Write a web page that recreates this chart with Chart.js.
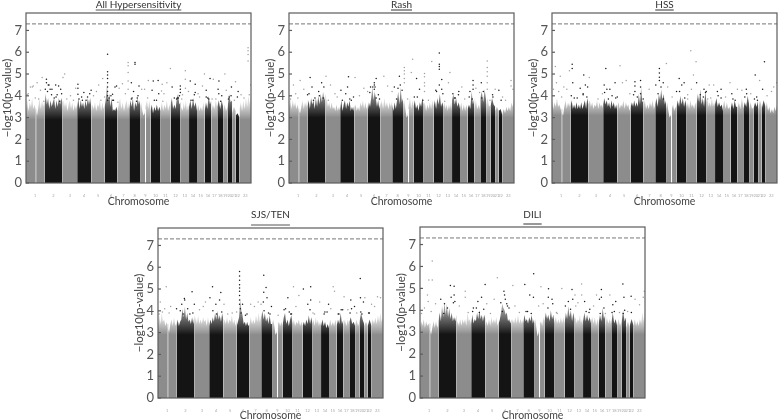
<!DOCTYPE html>
<html>
<head>
<meta charset="utf-8">
<script src="https://cdn.jsdelivr.net/npm/chart.js@4/dist/chart.umd.min.js"></script>
<style>
  html, body { margin: 0; padding: 0; background: #fff; overflow: hidden; }
  canvas { position: absolute; }
</style>
</head>
<body>
<canvas id="hyper" style="left:0;top:0"></canvas>
<canvas id="rash" style="left:263px;top:0"></canvas>
<canvas id="hss" style="left:526px;top:0"></canvas>
<canvas id="sjs" style="left:132px;top:210px"></canvas>
<canvas id="dili" style="left:394px;top:210px"></canvas>
<script>
const chromNames = ['1','2','3','4','5','6','7','8','9','10','11','12','13','14','15','16','17','18','19','20','21','22','23'];
const chromSizes = [249,243,198,191,181,171,159,146,141,136,135,134,115,107,103,90,81,78,59,63,48,51,155];
const yTicks = [0,1,2,3,4,5,6,7];
const thresholdValue = 7.3;
const gapPositions = [134, 1612];

// top of the dense mass of points, per chromosome
const hyperTops = [
  [3.4,3.8,3.3,3.7,3.5,3.9,3.4,3.6,3.3,3.1,3.5,3.9,3.4,3.8,3.5,3.9],
  [3.5,4.1,3.6,3.9,3.4,3.8,3.5,3.7,3.9,3.4,3.8,3.5,3.9,3.6,3.9,3.7],
  [3.4,3.8,3.5,3.7,3.3,3.6,3.8,3.4,3.7,3.3,3.6,3.4,3.6],
  [3.5,3.9,3.4,3.8,3.5,3.7,3.4,3.8,3.5,3.9,3.6,3.9,3.5],
  [3.3,3.6,3.4,3.7,3.3,3.6,3.5,3.8,3.3,3.7,3.4,3.6],
  [3.5,3.9,4.6,3.8,4.1,3.5,3.9,3.3,3.4,3.3,3.5,3.3],
  [3.3,3.6,3.9,3.4,3.7,3.3,3.6,3.8,3.4,3.8],
  [3.4,3.8,3.5,3.9,3.3,3.7,3.5,3.9,3.6,3.8],
  [3.5,3.7,3.3,3.1,3.2,3.6,3.8,3.4,3.8,3.4],
  [3.3,3.6,3.2,3.5,3.3,3.6,3.3,3.5,3.3],
  [3.4,3.7,3.3,3.6,3.4,3.8,3.3,3.6,3.4],
  [3.6,3.9,3.4,3.6,3.4,3.9,4.1,3.6,3.7],
  [3.2,3.5,3.3,3.7,3.4,3.8,3.3,3.6,3.3],
  [3.5,3.8,3.4,3.9,3.5,3.7,3.3],
  [3.3,3.6,3.3,3.5,3.3,3.7,3.3],
  [3.3,3.7,3.4,4.0,3.6,3.8],
  [3.3,3.6,3.4,3.8,3.4],
  [3.5,3.8,3.4,3.8,3.5],
  [3.3,3.6,3.3,3.5],
  [3.4,4.1,3.7,3.8],
  [3.2,3.5,3.3],
  [3.1,3.2,3.0],
  [3.4,3.7,3.3,3.8,3.4,3.9,3.5,4.0,3.6,4.1]
];
const rashTops = [
  [3.5,3.9,3.4,3.8,3.5,3.7,3.4,3.6,3.3,3.2,3.5,3.8,3.4,3.7,3.5,3.9],
  [3.5,3.8,3.4,3.9,3.6,3.8,3.4,3.9,3.5,4.0,3.6,4.1,3.7,4.2,3.8,4.1],
  [3.6,3.9,3.5,3.7,3.4,3.7,3.4,3.5,3.3,3.6,3.3,3.5,3.3],
  [3.4,3.8,3.3,3.6,3.8,3.4,3.7,3.5,3.8,3.3,3.5,3.3,3.6],
  [3.4,3.6,3.3,3.5,3.3,3.7,3.5,3.8,3.4,3.7,3.4,3.6],
  [3.3,3.7,3.5,3.9,4.4,3.8,4.2,3.9,3.5,3.8,3.4,3.7],
  [3.5,3.8,3.4,3.9,3.5,3.7,3.4,3.7,3.5,3.8],
  [3.6,3.3,3.7,3.4,3.8,4.2,3.6,4.4,3.7,3.9],
  [3.6,3.8,3.4,3.0,3.1,3.6,3.9,3.4,3.8,3.5],
  [3.5,3.8,3.4,3.6,3.3,3.7,3.5,3.9,3.6],
  [3.5,3.7,3.3,3.6,3.4,3.7,3.4,3.8,3.4],
  [3.5,3.8,3.4,3.9,3.6,4.1,3.5,3.7,3.5],
  [3.3,3.7,3.4,3.6,3.3,3.6,3.4,3.7,3.3],
  [3.8,4.1,3.6,3.9,3.5,3.7,3.4],
  [3.4,3.7,3.3,3.6,3.3,3.6,3.3],
  [3.4,3.6,3.4,4.2,3.6,3.9],
  [3.4,3.8,3.4,3.6,3.3],
  [3.9,4.2,3.7,4.3,3.8],
  [3.6,3.9,3.5,3.6],
  [3.5,3.9,3.6,3.5],
  [3.3,3.5,3.3],
  [3.3,3.4,3.1],
  [3.2,3.4,3.2,3.5,3.3,3.5,3.3,3.7,3.5,3.9]
];
const hssTops = [
  [3.8,3.4,3.7,3.5,3.9,3.5,3.6,3.4,3.2,3.1,3.5,3.8,3.4,3.7,3.5,3.8],
  [3.5,3.8,3.4,3.6,3.4,3.7,3.4,3.6,3.4,3.7,3.4,3.6,3.8,3.4,3.9,3.6],
  [3.6,3.8,3.5,3.7,3.4,3.6,3.5,3.8,3.4,3.7,3.5,3.6,3.4],
  [3.6,3.9,3.6,3.8,3.5,3.7,3.4,3.8,3.5,3.7,3.4,3.6,3.3],
  [3.5,3.7,3.4,3.6,3.5,3.8,3.4,3.7,3.5,3.6,3.3,3.6],
  [3.5,3.7,3.5,3.8,3.5,3.7,3.5,4.1,3.6,4.4,3.7,3.8],
  [3.5,3.8,3.4,3.6,3.4,3.7,3.5,3.8,3.4,3.6],
  [3.6,3.9,3.5,4.1,3.8,4.3,3.8,4.1,3.6,3.8],
  [3.4,3.7,3.3,3.0,3.1,3.4,3.6,3.3,3.5,3.3],
  [3.5,3.8,3.5,4.0,3.6,3.9,3.5,3.8,3.5],
  [3.4,3.7,3.4,3.8,3.5,3.6,3.4,3.7,3.4],
  [3.6,4.1,3.7,4.3,3.6,3.9,3.5,4.2,3.7],
  [3.5,3.9,3.5,3.7,3.5,3.9,3.5,3.7,3.5],
  [3.6,3.9,3.5,3.7,3.5,3.6,3.3],
  [3.5,3.8,3.4,3.7,3.4,3.5,3.3],
  [3.4,3.7,3.4,3.8,3.5,3.5],
  [3.4,3.7,3.4,3.9,3.5],
  [3.4,3.7,3.5,4.0,3.6],
  [3.4,3.7,3.4,3.5],
  [3.4,3.7,3.5,3.8],
  [3.4,3.8,3.5],
  [3.4,3.8,3.5],
  [3.4,3.7,3.3,3.5,3.2,3.4,3.2,3.5,3.3,3.6]
];
const sjsTops = [
  [3.3,3.8,3.4,3.9,3.5,3.6,3.3,3.5,3.2,3.0,3.4,3.6,3.3,3.7,3.3,3.5],
  [3.3,3.6,3.3,3.5,3.6,4.1,3.7,4.2,3.6,3.9,3.5,3.6,3.4,3.7,3.4,3.8],
  [3.4,3.7,3.4,3.8,3.4,3.6,3.4,3.7,3.5,3.6,3.3,3.7,3.4],
  [3.3,3.6,3.4,3.7,3.5,3.9,3.6,4.0,3.6,3.8,3.5,3.9,3.6],
  [3.4,3.6,3.4,3.7,3.4,3.6,3.5,3.8,3.4,3.6,3.3,3.6],
  [3.3,3.5,3.7,4.6,4.0,3.8,3.4,3.5,3.3,3.5,3.3,3.4],
  [3.4,3.7,3.4,3.6,3.4,3.8,3.5,3.9,3.5,3.8],
  [3.7,4.0,3.6,3.9,3.5,3.7,3.4,3.8,3.4,3.4],
  [3.4,3.6,3.3,2.9,3.0,3.4,3.5,3.3,3.5,3.3],
  [3.3,3.7,3.9,3.4,3.6,3.3,3.6,3.8,3.4],
  [3.3,3.6,3.3,3.5,3.4,3.6,3.3,3.5,3.3],
  [3.3,3.5,3.3,3.6,3.4,3.8,3.4,3.7,3.4],
  [3.4,3.6,3.3,3.7,3.4,3.6,3.3,3.5,3.3],
  [3.3,3.6,3.3,3.5,3.2,3.4,3.2],
  [3.3,3.6,3.3,3.5,3.3,3.6,3.3],
  [3.3,3.6,3.4,3.9,3.4,3.6],
  [3.3,3.6,3.3,3.6,3.3],
  [3.5,3.7,3.4,3.5,3.3],
  [3.3,3.6,3.3,3.5],
  [3.5,3.9,3.6,3.4],
  [3.3,3.5,3.3],
  [3.3,3.6,3.3],
  [3.4,3.6,3.4,3.7,3.4,3.8,3.5,3.9,3.5,3.7]
];
const diliTops = [
  [3.2,3.5,3.3,3.6,3.2,3.5,3.3,3.4,3.1,2.9,3.2,3.5,3.2,3.5,3.2,3.4],
  [3.5,3.9,3.5,4.2,3.7,4.4,3.8,4.3,3.7,4.1,3.6,3.9,3.5,3.7,3.5,3.8],
  [3.3,3.5,3.3,3.6,3.3,3.6,3.4,3.6,3.3,3.9,3.5,3.6,3.3],
  [3.4,3.8,3.4,3.6,3.5,3.9,3.6,4.0,3.6,3.8,3.5,3.8,3.6],
  [3.3,3.5,3.3,3.6,3.3,3.7,3.4,3.6,3.4,3.7,3.3,3.5],
  [3.4,3.6,3.9,4.3,4.1,4.0,3.8,3.9,3.5,3.6,3.4,3.6],
  [3.3,3.6,3.4,3.7,3.4,3.8,3.4,3.6,3.4,3.6],
  [3.4,3.8,3.5,3.6,3.4,3.7,3.5,3.8,3.4,3.6],
  [3.4,3.6,3.2,2.8,3.0,3.4,3.5,3.3,3.7,3.4],
  [3.5,3.9,3.6,3.8,3.5,4.0,3.6,3.8,3.4],
  [3.5,3.7,3.4,3.6,3.4,3.7,3.4,3.7,3.4],
  [3.4,3.9,3.6,4.2,3.7,4.0,3.5,3.9,3.6],
  [3.5,3.7,3.4,3.6,3.5,3.8,3.4,3.6,3.3],
  [3.5,3.9,3.5,3.8,3.5,3.7,3.4],
  [3.5,3.7,3.4,3.7,3.3,3.6,3.3],
  [3.4,3.8,3.5,4.1,3.6,3.8],
  [3.3,3.7,3.4,3.6,3.3],
  [3.4,3.9,3.4,3.6,3.3],
  [3.3,3.6,3.3,3.5],
  [3.4,4.0,3.5,3.7],
  [3.2,3.5,3.2],
  [3.3,3.6,3.3],
  [3.3,3.6,3.3,3.5,3.3,3.6,3.4,3.9,3.5,4.0]
];

// single points above the mass, genome position in Mb and -log10(p)
const hyperDotsX = [1100,1100,1100,1100,1100,1100,1100,1100,1100,1377,1377,1377,1377,1377,1470,1470,2994,2994,2994,2994,1947,2148,2148,2406,2682,2825,2482,2526,2602,2215,2281,2281,1716,1836,1827,1649,1782,1421,1524,1221,1256,1167,700,700,700,878,276,276,290,325,521,499,468,218,98,60,30,1034,980,2081,2081,2081,2055,150,170,400,600,760,1300,1600,1900,2000,2150,2340,2430,2560,2770,2900,3030,1500,1450,1180,350,380,780,830,15,45,85,125,195,240,300,420,440,550,640,670,910,950,1010,1060,1200,1340,1420,1560,1640,1700,1760,1860,1970,2030,2110,2190,2250,2320,2380,2450,2510,2590,2640,2700,2740,2810,2860,2940,3010,260,310,345,405,455,480,715,750,810,860,1120,1145,1170,1240,1430,1490,1510,1730,1790,1845,2040,2070,2100,2225,2270,2430,2465,2600,2625,2730,2765,2850];
const hyperDotsY = [5.91,5.1,4.95,4.8,4.6,4.4,4.2,4.0,3.8,5.53,5.38,5.07,4.68,4.3,5.53,5.45,6.2,6.07,5.9,5.6,5.25,5.15,4.76,5.0,5.0,4.65,4.8,4.76,4.68,4.68,4.53,4.15,4.68,4.53,4.22,4.7,4.7,4.6,4.45,4.45,4.35,4.07,4.53,4.35,4.07,4.25,4.76,4.6,4.2,4.3,5.0,4.84,4.3,4.84,4.45,4.4,4.1,4.8,4.5,4.45,4.3,4.15,3.9,4.6,3.85,4.5,4.0,3.8,4.55,4.3,4.6,3.9,4.35,3.95,4.25,3.85,4.4,4.05,4.5,3.9,4.2,3.8,4.3,3.9,4.15,3.95,4.05,3.8,4.4,3.9,4.25,3.75,4.5,4.05,4.45,3.85,3.8,4.35,4.0,4.2,3.8,3.95,4.4,4.1,3.85,4.3,3.9,4.25,3.8,4.1,4.4,3.85,4.05,4.2,3.8,4.1,4.45,3.9,3.85,4.3,4.0,4.25,3.95,3.8,4.2,3.9,4.05,4.3,4.5,4.05,3.95,3.75,4.1,3.85,3.95,3.8,4.1,3.9,4.0,3.8,3.7,3.9,3.75,4.0,3.8,4.1,3.75,3.9,4.0,3.85,3.8,4.05,3.95,3.85,4.1,3.75,3.85,4.0,3.95,4.1,3.9,3.8];
const rashDotsX = [2027,2027,2027,2027,2027,2060,2060,2673,2673,2673,2673,2673,2673,1667,1649,1925,2170,1555,1555,1555,1555,1555,1827,1827,1827,1827,1827,499,285,802,891,1176,1279,1488,1500,2482,2482,2482,2593,2994,2994,1150,1150,1150,1130,1160,60,150,120,310,250,440,560,650,790,1010,1330,1420,1720,2150,2330,2240,2780,2880,20,90,200,350,400,470,530,620,700,840,950,1060,1100,1220,1390,1470,1600,1690,1760,1880,1980,2100,2210,2290,2370,2430,2520,2620,2710,2750,2830,2920,3020,270,330,410,460,720,765,820,870,1090,1175,1205,1450,1525,1730,1805,1990,2075,2235,2285,2440,2470,2570,2600,2745,2860];
const rashDotsY = [5.96,5.45,5.35,5.22,4.5,4.75,4.3,5.6,5.3,5.1,4.9,4.6,4.3,5.68,5.07,5.58,5.07,5.3,5.15,5.0,4.8,4.6,5.02,4.87,4.6,4.45,4.2,4.9,4.84,4.87,4.84,4.8,4.9,4.9,4.5,4.7,4.5,4.3,4.6,4.7,4.45,4.6,4.5,4.3,4.4,4.4,4.5,4.7,3.9,4.4,4.05,4.6,4.5,3.95,4.4,4.35,4.45,4.4,4.8,4.6,4.4,3.9,4.3,3.95,3.85,4.1,4.3,3.9,4.2,4.4,3.8,4.1,4.25,3.8,4.0,4.2,4.4,3.85,4.2,4.35,3.85,3.95,4.3,3.8,4.25,3.75,4.1,4.2,3.85,3.95,4.35,4.2,3.8,3.95,4.25,3.8,4.3,4.1,3.8,4.0,3.9,3.8,4.1,3.85,3.95,4.15,3.9,4.05,3.85,4.25,3.95,3.8,4.2,4.1,3.9,4.05,4.2,3.85,4.15,3.9,4.05,3.8];
const hssDotsX = [1871,1943,1907,2865,2740,1542,1448,1448,1448,1448,918,726,272,272,235,45,111,428,503,1715,1782,704,1118,1118,1118,1194,1194,1194,2400,2120,2280,1000,950,850,60,20,160,280,450,740,1500,1560,1750,1950,2050,2080,2180,2500,2620,2800,2840,2990,3030,90,130,200,340,380,420,480,620,680,780,880,1050,1230,1310,1400,1470,1620,1680,1830,1880,2000,2140,2230,2340,2440,2560,2680,2770,2900,2960,260,300,420,470,710,760,810,860,1100,1150,1430,1500,1720,1790,1830,2040,2070,2100,2240,2280,2425,2470,2600,2625,2730,2760,2850];
const hssDotsY = [6.07,5.56,4.96,5.56,4.96,5.48,5.25,5.05,4.85,4.7,5.38,5.25,5.45,5.25,5.15,5.35,4.9,4.96,4.84,4.8,4.6,4.5,4.65,4.45,4.2,4.7,4.4,4.1,4.6,4.5,4.3,4.7,4.6,4.6,4.6,4.3,4.4,4.6,4.5,4.3,4.6,4.4,4.5,4.6,4.3,4.2,4.5,4.3,4.3,4.7,4.3,4.4,4.6,4.2,3.95,4.3,3.9,4.35,4.05,4.4,3.85,4.1,4.3,3.95,4.1,3.85,4.3,4.5,4.4,3.95,4.2,3.85,4.3,4.05,3.9,4.2,3.95,3.85,4.25,4.1,3.8,4.0,4.2,4.0,3.9,4.1,3.95,4.15,3.85,4.0,3.9,4.05,3.95,4.1,3.85,4.2,3.9,4.05,3.95,4.15,3.85,4.0,3.9,4.1,3.8,3.95,4.1,3.85,3.95];
const sjsDotsX = [1100,1100,1100,1100,1100,1100,1100,1100,1100,1426,1457,1426,2727,111,735,2059,2362,1827,847,459,356,2509,1900,1751,2790,2960,1960,1420,1470,2059,2380,2730,2770,830,780,30,60,170,320,360,640,700,1000,1250,1350,2180,2300,2490,2600,2680,2880,3000,15,90,150,250,430,490,560,610,890,940,1060,1140,1200,1300,1390,1530,1620,1700,1800,1860,2020,2110,2250,2330,2440,2560,2650,2840,2920,300,340,400,470,740,790,860,1110,1120,1180,1430,1490,1510,1720,1770,1790,2050,2090,2240,2280,2430,2470,2590,2610,2735,2750,2850];
const sjsDotsY = [5.8,5.6,5.4,5.2,5.05,4.9,4.7,4.5,4.3,5.63,5.07,4.85,5.48,5.1,5.11,5.11,5.1,5.1,4.84,4.87,4.56,4.65,4.7,4.6,4.6,4.65,5.0,4.4,4.6,4.5,4.9,4.6,4.4,4.5,4.3,4.4,3.95,4.2,4.3,4.5,4.4,4.6,3.9,4.3,4.4,4.4,4.3,4.05,4.5,3.9,4.3,4.6,3.85,4.1,3.9,4.1,3.85,4.3,4.05,4.2,4.3,3.85,3.95,4.3,3.85,4.2,4.3,4.2,3.8,4.05,3.85,4.2,4.3,3.85,3.95,4.1,3.85,4.05,4.2,3.9,4.2,4.0,3.85,4.1,3.9,4.0,3.85,3.95,4.1,3.9,3.8,4.0,3.9,3.85,4.1,3.95,3.85,4.05,3.9,3.85,3.95,3.85,4.05,3.9,4.1,3.95,3.85,3.9];
const diliDotsX = [165,120,165,1043,1533,878,1413,2736,2179,2446,1631,1733,1132,410,1252,1912,3025,610,610,2847,2446,2050,2090,2060,2000,1730,1780,1480,1530,2180,2220,2420,2380,2560,2640,2750,100,110,460,460,470,420,780,830,1000,1140,1150,1170,1180,2900,3010,20,60,150,210,320,530,650,720,900,950,1280,1340,1450,1600,1660,1850,1960,2130,2280,2340,2500,2600,2690,2800,2960,280,330,370,450,710,760,800,860,1090,1110,1200,1430,1500,1725,1790,1840,2030,2100,2240,2290,2430,2480,2590,2620,2740,2760,2850];
const diliDotsY = [6.25,5.38,5.38,5.48,5.67,5.18,5.18,5.2,5.2,4.95,5.07,4.98,4.87,5.13,5.13,5.0,4.87,4.87,4.6,4.64,4.6,4.95,4.7,4.5,4.4,4.6,4.5,4.7,4.6,4.7,4.4,4.5,4.7,4.7,4.4,4.6,4.7,4.4,5.1,4.7,4.4,4.6,4.4,4.6,4.5,4.7,4.5,4.3,4.2,4.5,4.6,3.85,4.1,3.95,4.3,3.85,4.2,3.9,4.1,4.3,3.85,4.2,3.9,3.95,4.2,4.3,3.85,4.2,4.35,3.9,4.2,3.85,4.25,3.9,3.95,4.25,4.5,4.3,4.1,4.35,3.95,4.1,3.9,4.05,4.35,3.95,4.1,3.95,3.85,4.1,4.3,3.9,4.05,4.2,3.95,4.05,3.85,4.1,3.9,3.95,3.85,4.0,3.9];

const axisFont = 'Lato, "Open Sans", sans-serif';
const genomeLength = chromSizes.reduce((a, b) => a + b, 0);
const chromStarts = chromSizes.map((s, i) => chromSizes.slice(0, i).reduce((a, b) => a + b, 0));

function chromIndexAt(mb) {
    for (let i = chromSizes.length - 1; i >= 0; i--) {
        if (mb >= chromStarts[i]) return i;
    }
    return 0;
}

// Fill fades out above the solid part, the points get sparse there
function massFill(isEven, solidLevel) {
    return function(ctx) {
        const chart = ctx.chart;
        if (!chart.chartArea) return isEven ? '#141414' : '#8c8c8c';
        const y = chart.scales.y;
        const g = chart.ctx.createLinearGradient(0, y.getPixelForValue(solidLevel + 1.5), 0, y.getPixelForValue(solidLevel));
        if (isEven) {
            g.addColorStop(0, 'rgba(20,20,20,0.25)');
            g.addColorStop(0.6, 'rgba(20,20,20,0.7)');
            g.addColorStop(1, 'rgba(20,20,20,1)');
        } else {
            g.addColorStop(0, 'rgba(140,140,140,0.08)');
            g.addColorStop(0.55, 'rgba(140,140,140,0.35)');
            g.addColorStop(0.8, 'rgba(140,140,140,0.7)');
            g.addColorStop(1, 'rgba(140,140,140,1)');
        }
        return g;
    };
}

const framePlugin = {
    id: 'frame',
    afterDraw(chart) {
        const c = chart.ctx, a = chart.chartArea, t = chart.titleBlock;
        c.save();
        c.strokeStyle = '#5c5c5c';
        c.lineWidth = 1.2;
        c.strokeRect(a.left, a.top, a.right - a.left, a.bottom - a.top);
        yTicks.forEach(v => {
            const py = chart.scales.y.getPixelForValue(v);
            c.beginPath();
            c.moveTo(a.left, py);
            c.lineTo(a.left + 3, py);
            c.stroke();
        });
        // titles are underlined in the figure
        c.font = t.options.font.size + 'px ' + axisFont;
        const w = c.measureText(t.options.text).width;
        const mid = (a.left + a.right) / 2;
        c.strokeStyle = '#555';
        c.beginPath();
        c.moveTo(mid - w / 2, a.top - 3);
        c.lineTo(mid + w / 2, a.top - 3);
        c.stroke();
        c.restore();
    }
};

function makePanel(id, title, tops, dotsX, dotsY, solidLevel, topPad, canvasH, xAxisH) {
    const canvas = document.getElementById(id);
    canvas.width = 255;
    canvas.height = canvasH;
    canvas.style.width = '255px';
    canvas.style.height = canvasH + 'px';

    const datasets = [];
    tops.forEach((row, i) => {
        datasets.push({
            data: row.map((v, j) => ({ x: chromStarts[i] + chromSizes[i] * j / (row.length - 1), y: v })),
            fill: 'origin',
            backgroundColor: massFill(i % 2 === 1, solidLevel),
            borderWidth: 0,
            pointRadius: 0,
            order: 3
        });
    });
    gapPositions.forEach((g, i) => {
        datasets.push({
            data: [{ x: g, y: 0 }, { x: g, y: 3.4 }],
            borderColor: i === 0 ? '#d4d4d4' : '#ffffff',
            borderWidth: 1,
            pointRadius: 0,
            order: 2
        });
    });
    datasets.push({
        data: [{ x: 0, y: thresholdValue }, { x: genomeLength, y: thresholdValue }],
        borderColor: '#777',
        borderWidth: 1,
        borderDash: [4, 2],
        pointRadius: 0,
        order: 1
    });
    datasets.push({
        data: dotsX.map((x, i) => ({ x: x, y: dotsY[i] })),
        showLine: false,
        pointRadius: 0.75,
        pointBorderWidth: 0,
        pointBackgroundColor: ctx => {
            const p = ctx.raw;
            return p && chromIndexAt(p.x) % 2 === 1 ? '#1a1a1a' : '#a0a0a0';
        },
        order: 0
    });

    new Chart(canvas, {
        type: 'line',
        data: { datasets: datasets },
        plugins: [framePlugin],
        options: {
            responsive: false,
            animation: false,
            layout: { padding: { right: 2 } },
            plugins: {
                legend: { display: false },
                tooltip: { enabled: false },
                title: {
                    display: true,
                    fullSize: false,
                    text: title,
                    color: '#333',
                    font: { family: axisFont, size: 10, weight: 'normal', lineHeight: 1 },
                    padding: { top: 0, bottom: topPad - 10 }
                }
            },
            scales: {
                x: {
                    type: 'linear',
                    min: 0,
                    max: genomeLength,
                    grid: { display: false },
                    border: { display: false },
                    afterBuildTicks: scale => {
                        scale.ticks = chromNames.map((n, i) => ({ value: chromStarts[i] + chromSizes[i] / 2 }));
                    },
                    afterFit: scale => { scale.height = xAxisH; },
                    ticks: {
                        autoSkip: false,
                        maxRotation: 0,
                        padding: 2,
                        color: '#a8a8a8',
                        font: { family: axisFont, size: 4 },
                        callback: function(v) {
                            return chromNames[chromIndexAt(v)];
                        }
                    },
                    title: {
                        display: true,
                        text: 'Chromosome',
                        color: '#444',
                        padding: 0,
                        font: { family: axisFont, size: 10.5 }
                    }
                },
                y: {
                    min: 0,
                    max: 7.8,
                    grid: { display: false, drawTicks: false },
                    border: { display: false },
                    afterFit: scale => { scale.width = 26; },
                    ticks: {
                        stepSize: 1,
                        includeBounds: false,
                        padding: 4,
                        color: '#555',
                        font: { family: axisFont, size: 13 }
                    },
                    title: {
                        display: true,
                        text: '\u2212log10(p-value)',
                        color: '#444',
                        padding: 0,
                        font: { family: axisFont, size: 11.5 }
                    }
                }
            }
        }
    });
}

makePanel('hyper', 'All Hypersensitivity', hyperTops, hyperDotsX, hyperDotsY, 2.9, 13, 208, 25);
makePanel('rash', 'Rash', rashTops, rashDotsX, rashDotsY, 3.0, 13, 208, 25);
makePanel('hss', 'HSS', hssTops, hssDotsX, hssDotsY, 3.1, 13, 208, 25);
makePanel('sjs', 'SJS/TEN', sjsTops, sjsDotsX, sjsDotsY, 2.9, 18, 212, 24);
makePanel('dili', 'DILI', diliTops, diliDotsX, diliDotsY, 2.9, 17, 212, 24);
</script>
</body>
</html>
